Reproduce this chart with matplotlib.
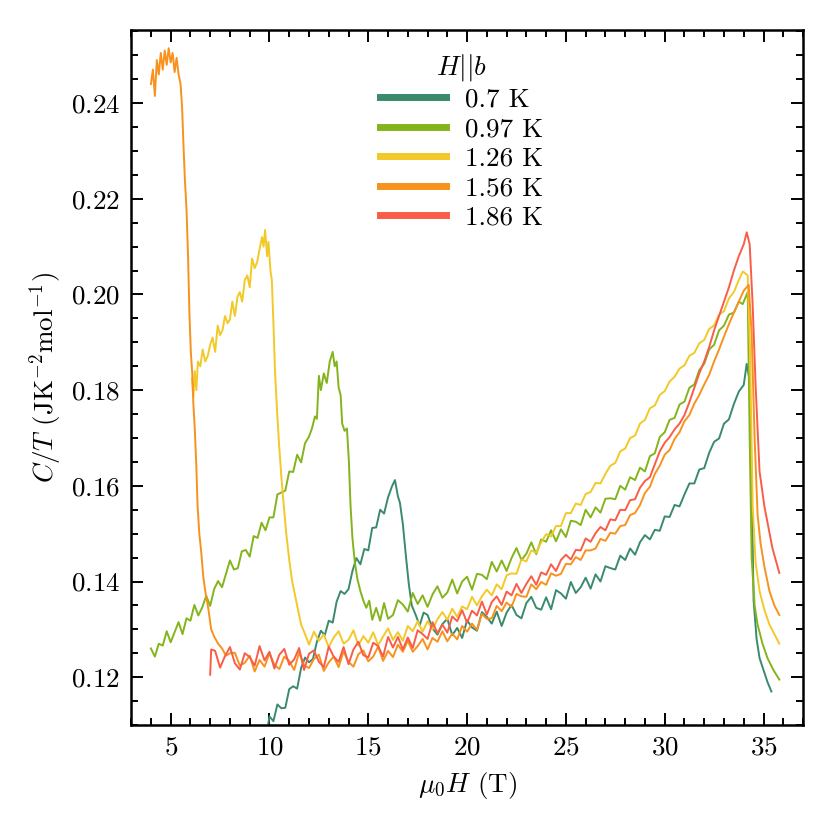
import matplotlib
matplotlib.use("Agg")
import matplotlib.pyplot as plt
from matplotlib.ticker import MultipleLocator

plt.rcParams['font.family'] = 'serif'
plt.rcParams['font.serif'] = ['cmr10']
plt.rcParams['mathtext.fontset'] = 'cm'
plt.rcParams['axes.unicode_minus'] = False
plt.rcParams['axes.formatter.use_mathtext'] = True
plt.rcParams['font.size'] = 19.5

# field (T), C/T (J K^-2 mol^-1)
data_070 = [
    (9.85, 0.1080), (10.0, 0.1118), (10.2, 0.1108), (10.4, 0.1143), (10.6, 0.1135),
    (10.8, 0.1136), (11.0, 0.1175), (11.2, 0.1181), (11.4, 0.1176), (11.6, 0.1219),
    (11.8, 0.1241), (12.0, 0.1231), (12.2, 0.1238), (12.4, 0.1274), (12.6, 0.1297),
    (12.8, 0.1288), (13.0, 0.1318), (13.2, 0.1314), (13.4, 0.1358), (13.6, 0.1380),
    (13.8, 0.1374), (14.0, 0.1384), (14.2, 0.1422), (14.4, 0.1449), (14.6, 0.1436),
    (14.8, 0.1468), (15.0, 0.1465), (15.2, 0.1512), (15.4, 0.1513), (15.6, 0.1550),
    (15.8, 0.1542), (16.0, 0.1576), (16.2, 0.1599), (16.35, 0.1612), (16.5, 0.1578),
    (16.6, 0.1565), (16.75, 0.1520), (16.9, 0.1455), (17.05, 0.1395), (17.2, 0.1350),
    (17.4, 0.1330), (17.6, 0.1308), (17.8, 0.1335), (18.0, 0.1330), (18.25, 0.1302),
    (18.5, 0.1289), (18.75, 0.1311), (19.0, 0.1322), (19.25, 0.1288), (19.5, 0.1303),
    (19.75, 0.1282), (20.0, 0.1319), (20.25, 0.1304), (20.5, 0.1297), (20.75, 0.1336),
    (21.0, 0.1326), (21.25, 0.1312), (21.5, 0.1337), (21.75, 0.1307), (22.0, 0.1335),
    (22.25, 0.1351), (22.5, 0.1330), (22.75, 0.1323), (23.0, 0.1355), (23.25, 0.1368),
    (23.5, 0.1345), (23.75, 0.1341), (24.0, 0.1367), (24.25, 0.1342), (24.5, 0.1382),
    (24.75, 0.1375), (25.0, 0.1364), (25.25, 0.1399), (25.5, 0.1376), (25.75, 0.1388),
    (26.0, 0.1408), (26.25, 0.1385), (26.5, 0.1415), (26.75, 0.1400), (27.0, 0.1432),
    (27.25, 0.1428), (27.5, 0.1425), (27.75, 0.1454), (28.0, 0.1445), (28.25, 0.1469),
    (28.5, 0.1456), (28.75, 0.1482), (29.0, 0.1497), (29.25, 0.1488), (29.5, 0.1508),
    (29.75, 0.1506), (30.0, 0.1536), (30.25, 0.1535), (30.5, 0.1560), (30.75, 0.1557),
    (31.0, 0.1582), (31.25, 0.1605), (31.5, 0.1605), (31.75, 0.1634), (32.0, 0.1637),
    (32.25, 0.1669), (32.5, 0.1692), (32.75, 0.1699), (33.0, 0.1730), (33.25, 0.1739),
    (33.5, 0.1771), (33.75, 0.1797), (34.0, 0.1811), (34.15, 0.1855), (34.3, 0.1820),
    (34.4, 0.1600), (34.5, 0.1360), (34.65, 0.1280), (34.8, 0.1240), (35.0, 0.1215),
    (35.2, 0.1190), (35.4, 0.1170),
]

data_097 = [
    (4.0, 0.1260), (4.2, 0.1243), (4.4, 0.1270), (4.6, 0.1266), (4.8, 0.1296),
    (5.0, 0.1273), (5.2, 0.1294), (5.4, 0.1315), (5.6, 0.1290), (5.8, 0.1323),
    (6.0, 0.1318), (6.2, 0.1351), (6.4, 0.1329), (6.6, 0.1346), (6.8, 0.1370),
    (7.0, 0.1349), (7.2, 0.1384), (7.4, 0.1401), (7.6, 0.1388), (7.8, 0.1416),
    (8.0, 0.1444), (8.2, 0.1425), (8.4, 0.1428), (8.6, 0.1463), (8.8, 0.1466),
    (9.0, 0.1452), (9.2, 0.1495), (9.4, 0.1491), (9.6, 0.1523), (9.8, 0.1507),
    (10.0, 0.1534), (10.2, 0.1534), (10.4, 0.1582), (10.6, 0.1586), (10.8, 0.1590),
    (11.0, 0.1630), (11.2, 0.1629), (11.4, 0.1665), (11.6, 0.1649), (11.8, 0.1689),
    (12.0, 0.1703), (12.15, 0.1720), (12.3, 0.1745), (12.4, 0.1740), (12.5, 0.1830),
    (12.6, 0.1800), (12.75, 0.1835), (12.9, 0.1815), (13.05, 0.1860), (13.2, 0.1880),
    (13.3, 0.1850), (13.4, 0.1860), (13.5, 0.1805), (13.6, 0.1790), (13.68, 0.1730),
    (13.8, 0.1715), (13.92, 0.1720), (14.02, 0.1650), (14.1, 0.1560), (14.2, 0.1490),
    (14.32, 0.1440), (14.45, 0.1405), (14.6, 0.1380), (14.75, 0.1360), (14.9, 0.1345),
    (15.05, 0.1360), (15.2, 0.1320), (15.4, 0.1345), (15.6, 0.1318), (15.8, 0.1355),
    (16.0, 0.1322), (16.25, 0.1330), (16.5, 0.1361), (16.75, 0.1352), (17.0, 0.1337),
    (17.25, 0.1376), (17.5, 0.1353), (17.75, 0.1371), (18.0, 0.1347), (18.25, 0.1373),
    (18.5, 0.1390), (18.75, 0.1366), (19.0, 0.1377), (19.25, 0.1404), (19.5, 0.1375),
    (19.75, 0.1400), (20.0, 0.1410), (20.25, 0.1383), (20.5, 0.1416), (20.75, 0.1414),
    (21.0, 0.1405), (21.25, 0.1441), (21.5, 0.1421), (21.75, 0.1444), (22.0, 0.1422),
    (22.25, 0.1449), (22.5, 0.1470), (22.75, 0.1445), (23.0, 0.1458), (23.25, 0.1482),
    (23.5, 0.1457), (23.75, 0.1488), (24.0, 0.1483), (24.25, 0.1507), (24.5, 0.1484),
    (24.75, 0.1509), (25.0, 0.1493), (25.25, 0.1527), (25.5, 0.1525), (25.75, 0.1518),
    (26.0, 0.1550), (26.25, 0.1534), (26.5, 0.1555), (26.75, 0.1544), (27.0, 0.1573),
    (27.25, 0.1574), (27.5, 0.1572), (27.75, 0.1600), (28.0, 0.1592), (28.25, 0.1618),
    (28.5, 0.1612), (28.75, 0.1638), (29.0, 0.1630), (29.25, 0.1662), (29.5, 0.1668),
    (29.75, 0.1702), (30.0, 0.1712), (30.25, 0.1738), (30.5, 0.1742), (30.75, 0.1770),
    (31.0, 0.1776), (31.25, 0.1805), (31.5, 0.1812), (31.75, 0.1842), (32.0, 0.1855),
    (32.25, 0.1885), (32.5, 0.1895), (32.75, 0.1925), (33.0, 0.1935), (33.25, 0.1958),
    (33.5, 0.1962), (33.75, 0.1985), (33.95, 0.1980), (34.2, 0.2005), (34.3, 0.1700),
    (34.4, 0.1450), (34.55, 0.1350), (34.7, 0.1310), (34.95, 0.1270), (35.2, 0.1240),
    (35.5, 0.1215), (35.8, 0.1195),
]

data_126 = [
    (6.08, 0.1825), (6.15, 0.1785), (6.22, 0.1840), (6.3, 0.1800), (6.38, 0.1860),
    (6.5, 0.1850), (6.62, 0.1885), (6.75, 0.1860), (6.88, 0.1872), (7.0, 0.1895),
    (7.12, 0.1910), (7.25, 0.1880), (7.38, 0.1935), (7.5, 0.1915), (7.62, 0.1925),
    (7.75, 0.1955), (7.88, 0.1940), (8.0, 0.1948), (8.12, 0.1985), (8.25, 0.1955),
    (8.38, 0.1995), (8.5, 0.2005), (8.62, 0.1985), (8.75, 0.2030), (8.88, 0.2040),
    (9.0, 0.2015), (9.12, 0.2075), (9.25, 0.2055), (9.38, 0.2068), (9.5, 0.2095),
    (9.62, 0.2120), (9.7, 0.2100), (9.78, 0.2135), (9.88, 0.2080), (9.95, 0.2110),
    (10.05, 0.2050), (10.12, 0.2030), (10.2, 0.1940), (10.28, 0.1840), (10.38, 0.1760),
    (10.48, 0.1690), (10.6, 0.1620), (10.72, 0.1560), (10.85, 0.1500), (11.0, 0.1445),
    (11.15, 0.1400), (11.3, 0.1370), (11.45, 0.1340), (11.6, 0.1310), (11.8, 0.1290),
    (12.0, 0.1268), (12.25, 0.1295), (12.5, 0.1276), (12.75, 0.1289), (13.0, 0.1263),
    (13.25, 0.1283), (13.5, 0.1296), (13.75, 0.1270), (14.0, 0.1278), (14.25, 0.1298),
    (14.5, 0.1266), (14.75, 0.1286), (15.0, 0.1272), (15.25, 0.1294), (15.5, 0.1267),
    (15.75, 0.1285), (16.0, 0.1302), (16.25, 0.1278), (16.5, 0.1294), (16.75, 0.1276),
    (17.0, 0.1307), (17.25, 0.1296), (17.5, 0.1317), (17.75, 0.1295), (18.0, 0.1317),
    (18.25, 0.1300), (18.5, 0.1321), (18.75, 0.1336), (19.0, 0.1320), (19.25, 0.1343),
    (19.5, 0.1326), (19.75, 0.1348), (20.0, 0.1342), (20.25, 0.1368), (20.5, 0.1350),
    (20.75, 0.1369), (21.0, 0.1383), (21.25, 0.1371), (21.5, 0.1394), (21.75, 0.1384),
    (22.0, 0.1413), (22.25, 0.1417), (22.5, 0.1416), (22.75, 0.1446), (23.0, 0.1442),
    (23.25, 0.1465), (23.5, 0.1460), (23.75, 0.1482), (24.0, 0.1499), (24.25, 0.1494),
    (24.5, 0.1516), (24.75, 0.1516), (25.0, 0.1543), (25.25, 0.1543), (25.5, 0.1563),
    (25.75, 0.1560), (26.0, 0.1583), (26.25, 0.1587), (26.5, 0.1606), (26.75, 0.1605),
    (27.0, 0.1625), (27.25, 0.1642), (27.5, 0.1648), (27.75, 0.1672), (28.0, 0.1678),
    (28.25, 0.1700), (28.5, 0.1705), (28.75, 0.1730), (29.0, 0.1738), (29.25, 0.1762),
    (29.5, 0.1768), (29.75, 0.1790), (30.0, 0.1798), (30.25, 0.1818), (30.5, 0.1828),
    (30.75, 0.1845), (31.0, 0.1852), (31.25, 0.1872), (31.5, 0.1878), (31.75, 0.1898),
    (32.0, 0.1905), (32.25, 0.1928), (32.5, 0.1935), (32.75, 0.1958), (33.0, 0.1965),
    (33.25, 0.1992), (33.5, 0.2005), (33.75, 0.2030), (33.95, 0.2048), (34.2, 0.2040),
    (34.32, 0.1880), (34.45, 0.1560), (34.6, 0.1440), (34.8, 0.1380), (35.05, 0.1340),
    (35.3, 0.1310), (35.55, 0.1290), (35.8, 0.1270),
]

data_156 = [
    (4.0, 0.2440), (4.1, 0.2470), (4.2, 0.2415), (4.3, 0.2490), (4.4, 0.2460),
    (4.5, 0.2505), (4.6, 0.2470), (4.7, 0.2510), (4.8, 0.2480), (4.9, 0.2515),
    (5.0, 0.2485), (5.1, 0.2505), (5.2, 0.2465), (5.3, 0.2495), (5.4, 0.2460),
    (5.5, 0.2440), (5.58, 0.2390), (5.65, 0.2310), (5.72, 0.2240), (5.8, 0.2180),
    (5.88, 0.2080), (5.95, 0.1960), (6.02, 0.1880), (6.1, 0.1830), (6.15, 0.1770),
    (6.22, 0.1720), (6.3, 0.1640), (6.36, 0.1560), (6.45, 0.1500), (6.55, 0.1460),
    (6.65, 0.1410), (6.75, 0.1380), (6.9, 0.1345), (7.05, 0.1300), (7.2, 0.1285),
    (7.4, 0.1270), (7.6, 0.1260), (7.8, 0.1245), (8.0, 0.1250), (8.25, 0.1251),
    (8.5, 0.1224), (8.75, 0.1230), (9.0, 0.1245), (9.25, 0.1212), (9.5, 0.1236),
    (9.75, 0.1222), (10.0, 0.1250), (10.25, 0.1226), (10.5, 0.1217), (10.75, 0.1243),
    (11.0, 0.1234), (11.25, 0.1215), (11.5, 0.1252), (11.75, 0.1225), (12.0, 0.1219),
    (12.25, 0.1238), (12.5, 0.1247), (12.75, 0.1213), (13.0, 0.1231), (13.25, 0.1243),
    (13.5, 0.1221), (13.75, 0.1254), (14.0, 0.1232), (14.25, 0.1222), (14.5, 0.1248),
    (14.75, 0.1256), (15.0, 0.1233), (15.25, 0.1243), (15.5, 0.1264), (15.75, 0.1234),
    (16.0, 0.1255), (16.25, 0.1242), (16.5, 0.1268), (16.75, 0.1253), (17.0, 0.1276),
    (17.25, 0.1253), (17.5, 0.1265), (17.75, 0.1280), (18.0, 0.1258), (18.25, 0.1282),
    (18.5, 0.1274), (18.75, 0.1296), (19.0, 0.1275), (19.25, 0.1291), (19.5, 0.1279),
    (19.75, 0.1307), (20.0, 0.1295), (20.25, 0.1312), (20.5, 0.1299), (20.75, 0.1332),
    (21.0, 0.1322), (21.25, 0.1323), (21.5, 0.1349), (21.75, 0.1338), (22.0, 0.1356),
    (22.25, 0.1347), (22.5, 0.1374), (22.75, 0.1369), (23.0, 0.1368), (23.25, 0.1394),
    (23.5, 0.1384), (23.75, 0.1399), (24.0, 0.1393), (24.25, 0.1417), (24.5, 0.1412),
    (24.75, 0.1416), (25.0, 0.1437), (25.25, 0.1436), (25.5, 0.1451), (25.75, 0.1445),
    (26.0, 0.1465), (26.25, 0.1465), (26.5, 0.1469), (26.75, 0.1489), (27.0, 0.1485),
    (27.25, 0.1502), (27.5, 0.1500), (27.75, 0.1516), (28.0, 0.1518), (28.25, 0.1539),
    (28.5, 0.1543), (28.75, 0.1560), (29.0, 0.1585), (29.25, 0.1598), (29.5, 0.1625),
    (29.75, 0.1642), (30.0, 0.1665), (30.25, 0.1675), (30.5, 0.1698), (30.75, 0.1712),
    (31.0, 0.1735), (31.25, 0.1748), (31.5, 0.1772), (31.75, 0.1790), (32.0, 0.1812),
    (32.25, 0.1832), (32.5, 0.1860), (32.75, 0.1885), (33.0, 0.1912), (33.25, 0.1938),
    (33.5, 0.1962), (33.75, 0.1985), (34.0, 0.2008), (34.25, 0.2020), (34.4, 0.1920),
    (34.55, 0.1700), (34.7, 0.1540), (34.85, 0.1480), (35.05, 0.1430), (35.3, 0.1380),
    (35.55, 0.1350), (35.8, 0.1330),
]

data_186 = [
    (7.0, 0.1205), (7.05, 0.1258), (7.25, 0.1255), (7.5, 0.1220), (7.75, 0.1244),
    (8.0, 0.1263), (8.25, 0.1229), (8.5, 0.1216), (8.75, 0.1250), (9.0, 0.1242),
    (9.25, 0.1224), (9.5, 0.1265), (9.75, 0.1235), (10.0, 0.1253), (10.25, 0.1218),
    (10.5, 0.1247), (10.75, 0.1259), (11.0, 0.1226), (11.25, 0.1237), (11.5, 0.1261),
    (11.75, 0.1215), (12.0, 0.1249), (12.25, 0.1256), (12.5, 0.1232), (12.75, 0.1221),
    (13.0, 0.1264), (13.25, 0.1243), (13.5, 0.1232), (13.75, 0.1263), (14.0, 0.1227),
    (14.25, 0.1258), (14.5, 0.1274), (14.75, 0.1246), (15.0, 0.1241), (15.25, 0.1272),
    (15.5, 0.1265), (15.75, 0.1243), (16.0, 0.1284), (16.25, 0.1262), (16.5, 0.1284),
    (16.75, 0.1258), (17.0, 0.1283), (17.25, 0.1261), (17.5, 0.1298), (17.75, 0.1290),
    (18.0, 0.1280), (18.25, 0.1315), (18.5, 0.1292), (18.75, 0.1310), (19.0, 0.1293),
    (19.25, 0.1327), (19.5, 0.1317), (19.75, 0.1340), (20.0, 0.1314), (20.25, 0.1339),
    (20.5, 0.1329), (20.75, 0.1358), (21.0, 0.1331), (21.25, 0.1357), (21.5, 0.1369),
    (21.75, 0.1351), (22.0, 0.1379), (22.25, 0.1371), (22.5, 0.1395), (22.75, 0.1376),
    (23.0, 0.1395), (23.25, 0.1411), (23.5, 0.1393), (23.75, 0.1419), (24.0, 0.1414),
    (24.25, 0.1436), (24.5, 0.1422), (24.75, 0.1445), (25.0, 0.1456), (25.25, 0.1446),
    (25.5, 0.1466), (25.75, 0.1465), (26.0, 0.1490), (26.25, 0.1483), (26.5, 0.1501),
    (26.75, 0.1514), (27.0, 0.1507), (27.25, 0.1530), (27.5, 0.1528), (27.75, 0.1550),
    (28.0, 0.1549), (28.25, 0.1570), (28.5, 0.1572), (28.75, 0.1596), (29.0, 0.1610),
    (29.25, 0.1618), (29.5, 0.1645), (29.75, 0.1672), (30.0, 0.1690), (30.25, 0.1702),
    (30.5, 0.1718), (30.75, 0.1730), (31.0, 0.1748), (31.25, 0.1775), (31.5, 0.1805),
    (31.75, 0.1835), (32.0, 0.1860), (32.25, 0.1890), (32.5, 0.1925), (32.75, 0.1955),
    (33.0, 0.1985), (33.25, 0.2015), (33.5, 0.2050), (33.75, 0.2080), (34.0, 0.2105),
    (34.15, 0.2130), (34.3, 0.2105), (34.45, 0.1980), (34.6, 0.1810), (34.8, 0.1630),
    (35.05, 0.1556), (35.45, 0.1470), (35.8, 0.1418),
]

labels = ["0.7 K", "0.97 K", "1.26 K", "1.56 K", "1.86 K"]
colors = ["#3a8a6c", "#84b41c", "#f2c928", "#f8921e", "#f95d48"]
series = [data_070, data_097, data_126, data_156, data_186]

fig = plt.figure(figsize=(8.3, 8.3), dpi=100)
ax = fig.add_axes([0.158, 0.1265, 0.8095, 0.8374])

for d, lab, col in zip(series, labels, colors):
    h = [p[0] for p in d]
    c = [p[1] for p in d]
    ax.plot(h, c, color=col, lw=1.4, label=lab)

ax.set_xlim(3, 37)
ax.set_ylim(0.11, 0.2553)
ax.xaxis.set_major_locator(MultipleLocator(5))
ax.xaxis.set_minor_locator(MultipleLocator(1))
ax.yaxis.set_major_locator(MultipleLocator(0.02))
ax.yaxis.set_minor_locator(MultipleLocator(0.005))
ax.tick_params(which='both', direction='in', top=True, right=True, width=1.4)
ax.tick_params(which='major', length=8.5, pad=8)
ax.tick_params(which='minor', length=5)
for s in ax.spines.values():
    s.set_linewidth(1.8)

ax.set_xlabel(r"$\mu_0H$ (T)", labelpad=7)
ax.set_ylabel(r"$C/T$ (JK$^{-2}$mol$^{-1}$)", labelpad=5)

leg = ax.legend(title=r"$H||b$", loc='upper left', bbox_to_anchor=(0.37, 0.969),
                frameon=False, borderpad=0, borderaxespad=0, handlelength=2.45,
                handletextpad=0.7, labelspacing=0.2)
for ln in leg.get_lines():
    ln.set_linewidth(5)

fig.savefig("out.png", dpi=100)
